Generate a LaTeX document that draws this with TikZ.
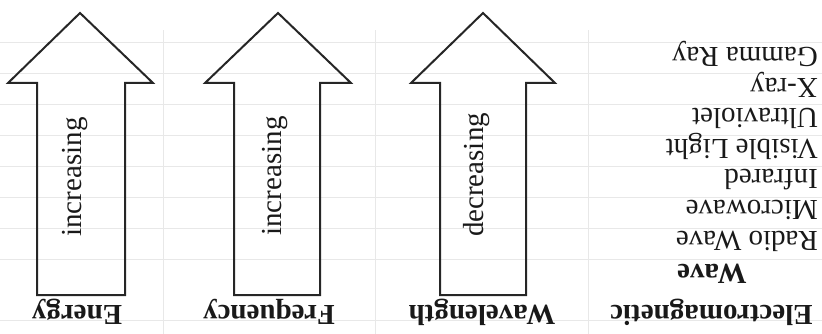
\documentclass[tikz,border=0pt]{standalone}
\usepackage{fontspec}
\setmainfont{Liberation Serif}
\begin{document}
\begin{tikzpicture}[x=1pt,y=-1pt,
  gridline/.style={draw=black!9, line width=0.9pt},
  bigarrow/.style={draw=black!85, line width=2pt, line join=miter},
  lbl/.style={rotate=180, font=\fontsize{29}{30}\selectfont\bfseries, anchor=base, inner sep=0pt, text=black!90},
  item/.style={rotate=180, font=\fontsize{29}{30}\selectfont, anchor=base west, inner sep=0pt, text=black!90},
  inarrow/.style={rotate=90, font=\fontsize{29}{30}\selectfont, inner sep=0pt, text=black!90}]
\useasboundingbox (0,0) rectangle (822,334);
% faint table grid
\foreach \yy in {42,73,104,135,166,197,228,259,320}
  \draw[gridline] (0,\yy) -- (822,\yy);
\foreach \xx in {163,375,588}
  \draw[gridline] (\xx,30) -- (\xx,334);
% arrows
\draw[bigarrow] (80,13) -- (153,83) -- (125,83) -- (125,295) -- (37,295) -- (37,83) -- (8,83) -- cycle;
\draw[bigarrow] (278,13) -- (351,83) -- (320,83) -- (320,295) -- (234,295) -- (234,83) -- (205,83) -- cycle;
\draw[bigarrow] (483,13) -- (555,83) -- (526,83) -- (526,295) -- (440,295) -- (440,83) -- (411,83) -- cycle;
% labels inside arrows
\node[inarrow] (e) at (75,177) {increasing};
\node[inarrow] (f) at (275,176) {increasing};
\node[inarrow] (w) at (477,175) {decreasing};
% bottom labels
\node[lbl] (le) at (77,305) {Energy};
\node[lbl] (lf) at (269,305) {Frequency};
\node[lbl] (lw) at (482,305) {Wavelength};
\node[lbl] (lem) at (711.5,305) {Electromagnetic};
\node[lbl] (lwave) at (712,264) {Wave};
% spectrum items
\node[item] (i1) at (818,48) {Gamma Ray};
\node[item] (i2) at (818,78.5) {X-ray};
\node[item] (i3) at (818,109) {Ultraviolet};
\node[item] (i4) at (818,139.5) {Visible Light};
\node[item] (i5) at (818,170) {Infrared};
\node[item] (i6) at (818,200.5) {Microwave};
\node[item] (i7) at (818,231) {Radio Wave};
\end{tikzpicture}
\end{document}
